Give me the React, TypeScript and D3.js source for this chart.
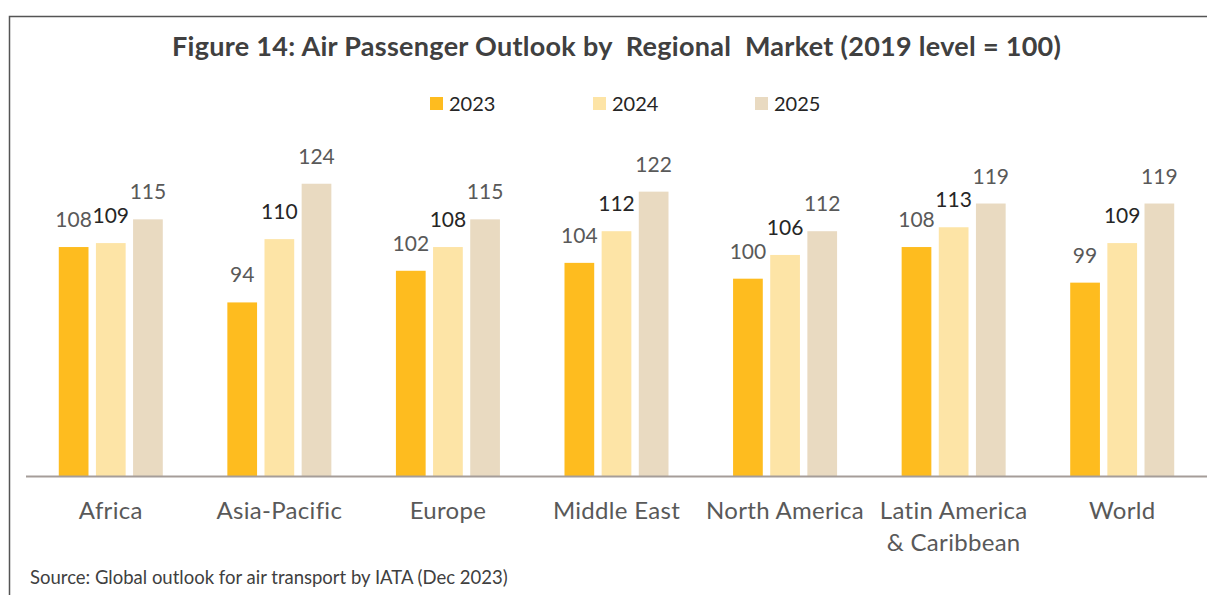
import { useEffect, useRef } from 'react';
import * as d3 from 'd3';

const regions = ['Africa', 'Asia-Pacific', 'Europe', 'Middle East', 'North America', 'Latin America\n& Caribbean', 'World'];
const years = ['2023', '2024', '2025'];
const values2023 = [108, 94, 102, 104, 100, 108, 99];
const values2024 = [109, 110, 108, 112, 106, 113, 109];
const values2025 = [115, 124, 115, 122, 112, 119, 119];
const yearColors = ['#FEBC1F', '#FDE4A6', '#E9DAC1'];
const labelColors = ['#595959', '#262626', '#595959'];

const App = () => {
    const svgRef = useRef<SVGSVGElement>(null);

    useEffect(() => {
        const width = 1207;
        const height = 595;
        const font = 'Lato, "Open Sans", sans-serif';

        d3.select(svgRef.current).selectAll('*').remove();
        const svg = d3.select(svgRef.current)
            .attr('width', width)
            .attr('height', height);

        svg.append('rect').attr('width', width).attr('height', height).attr('fill', '#fff');

        // frame: top and left edges only
        svg.append('path')
            .attr('d', `M9.5,${height} L9.5,16.5 L${width},16.5`)
            .attr('fill', 'none')
            .attr('stroke', '#555')
            .attr('stroke-width', 1.5);

        svg.append('text')
            .attr('x', 172)
            .attr('y', 56)
            .attr('font-family', font)
            .attr('font-weight', 700)
            .attr('font-size', 27)
            .attr('fill', '#404040')
            .attr('textLength', 889)
            .attr('lengthAdjust', 'spacing')
            .style('white-space', 'pre')
            .text('Figure 14: Air Passenger Outlook by  Regional  Market (2019 level = 100)');

        // legend
        const legendX = [430, 593, 755];
        const legend = svg.append('g').selectAll('g')
            .data(years)
            .join('g')
            .attr('transform', (d, i) => `translate(${legendX[i]}, 97)`);
        legend.append('rect')
            .attr('width', 13).attr('height', 13)
            .attr('fill', (d, i) => yearColors[i]);
        legend.append('text')
            .attr('x', 19).attr('y', 13.5)
            .attr('font-family', font)
            .attr('font-size', 20)
            .attr('fill', '#262626')
            .text(d => d);

        const x = d3.scaleBand()
            .domain(regions)
            .range([26.75, 1206.25])
            .paddingInner(0.383)
            .paddingOuter(0.19);

        const xSub = d3.scaleBand()
            .domain(years)
            .range([0, x.bandwidth()])
            .paddingInner(0.2);

        const y = d3.scaleLinear()
            .domain([50, 130])
            .range([476.5, 160]);

        const rows = regions.map((r, i) => ({
            region: r,
            vals: [values2023[i], values2024[i], values2025[i]],
        }));

        const groups = svg.append('g').selectAll('g')
            .data(rows)
            .join('g')
            .attr('transform', d => `translate(${x(d.region)}, 0)`);

        groups.selectAll('rect')
            .data(d => d.vals.map((v, i) => ({ year: years[i], v, i })))
            .join('rect')
            .attr('x', d => xSub(d.year)!)
            .attr('y', d => y(d.v))
            .attr('width', xSub.bandwidth())
            .attr('height', d => y(50) - y(d.v))
            .attr('fill', d => yearColors[d.i]);

        groups.selectAll('text')
            .data(d => d.vals.map((v, i) => ({ year: years[i], v, i })))
            .join('text')
            .attr('x', d => xSub(d.year)! + xSub.bandwidth() / 2)
            .attr('y', d => y(d.v) - 20)
            .attr('text-anchor', 'middle')
            .attr('font-family', font)
            .attr('font-size', 21)
            .attr('fill', d => labelColors[d.i])
            .text(d => d.v);

        // baseline
        svg.append('line')
            .attr('x1', 26).attr('x2', width)
            .attr('y1', y(50)).attr('y2', y(50))
            .attr('stroke', '#A59D99')
            .attr('stroke-width', 2);

        // category labels
        const cats = svg.append('g').selectAll('text')
            .data(regions)
            .join('text')
            .attr('x', d => x(d)! + x.bandwidth() / 2)
            .attr('y', 519)
            .attr('text-anchor', 'middle')
            .attr('font-family', font)
            .attr('font-size', 24)
            .attr('letter-spacing', 0.3)
            .attr('fill', '#595959');
        cats.selectAll('tspan')
            .data(d => d.split('\n'))
            .join('tspan')
            .attr('x', function () { return (this.parentNode as SVGTextElement).getAttribute('x'); })
            .attr('dy', (d, i) => (i === 0 ? 0 : 32))
            .text(d => d);

        svg.append('text')
            .attr('x', 30)
            .attr('y', 584)
            .attr('font-family', font)
            .attr('font-size', 18.5)
            .attr('fill', '#404040')
            .text('Source: Global outlook for air transport by IATA (Dec 2023)');
    }, []);

    return (
        <svg ref={svgRef} style={{ position: 'absolute', left: 0, top: 0, display: 'block' }} />
    );
};

export default App;
